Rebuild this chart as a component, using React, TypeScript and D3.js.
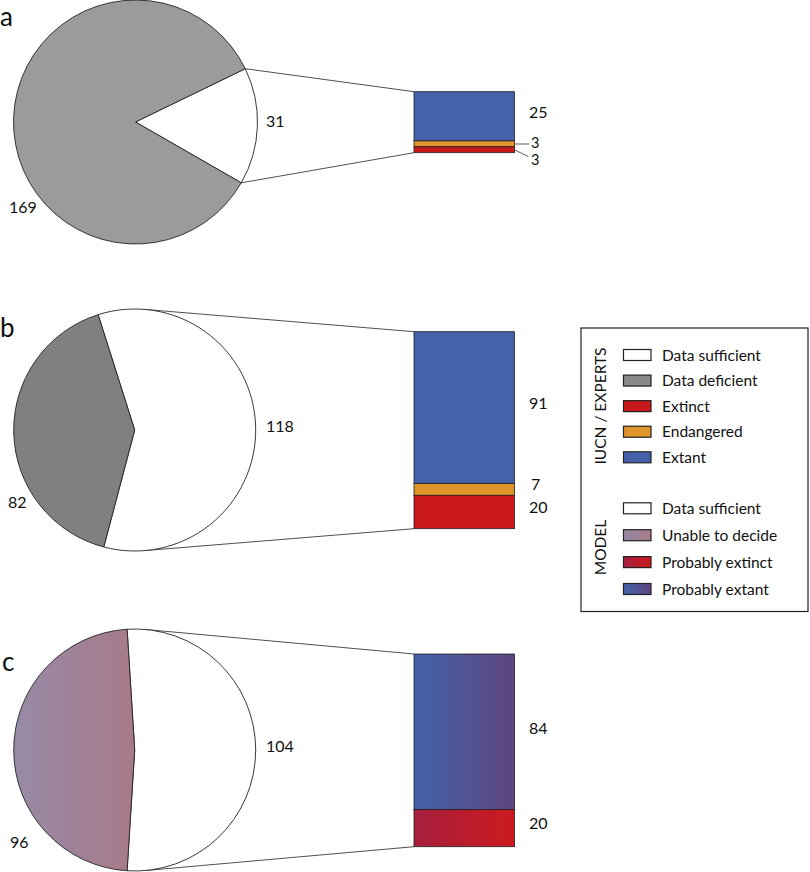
import React from "react";
import * as d3 from "d3";

// ---------- DATA ----------
const panelLetters = ["a", "b", "c"];
const pieSufficient = [31, 118, 104];
const pieOther = [169, 82, 96]; // a,b: data deficient; c: unable to decide
const barCategoriesExperts = ["Extant", "Endangered", "Extinct"];
const barValuesA = [25, 3, 3];
const barValuesB = [91, 7, 20];
const barCategoriesModel = ["Probably extant", "Probably extinct"];
const barValuesC = [84, 20];
const legendExperts = ["Data sufficient", "Data deficient", "Extinct", "Endangered", "Extant"];
const legendModel = ["Data sufficient", "Unable to decide", "Probably extinct", "Probably extant"];
const legendTitles = ["IUCN / EXPERTS", "MODEL"];

// ---------- STYLE / LAYOUT ----------
const FONT = "Lato, 'Open Sans', sans-serif";
const C = {
  white: "#ffffff",
  grayA: "#9b9b9b",
  grayB: "#808080",
  blue: "#4561aa",
  orange: "#e0952b",
  red: "#c8181c",
  stroke: "#222",
};
const fillExperts: Record<string, string> = {
  Extant: C.blue,
  Endangered: C.orange,
  Extinct: C.red,
  "Data sufficient": C.white,
  "Data deficient": "#888888",
};
const fillModel: Record<string, string> = {
  "Probably extant": "url(#gExtant)",
  "Probably extinct": "url(#gExtinct)",
  "Unable to decide": "url(#gUnable)",
  "Data sufficient": C.white,
};

type Layout = {
  cx: number; cy: number; r: number; rot: number;
  otherFill: string;
  bx0: number; bx1: number; by0: number; by1: number;
  tangent: boolean;
  letter: [number, number];
  otherLabel: [number, number];
  suffLabel: [number, number];
  barLabels: { x: number; y: number; size?: number; leader?: [number, number, number, number] }[];
};

const layouts: Layout[] = [
  {
    cx: 135.5, cy: 122, r: 122, rot: 2, otherFill: C.grayA,
    bx0: 414, bx1: 514.5, by0: 91.7, by1: 152.7, tangent: false,
    letter: [0, 26], otherLabel: [9, 213], suffLabel: [266, 126.5],
    barLabels: [
      { x: 529, y: 117.5 },
      { x: 531, y: 147.5, size: 14.5, leader: [514.5, 144, 529, 144] },
      { x: 531, y: 164.5, size: 14.5, leader: [514.5, 150, 528.5, 156.5] },
    ],
  },
  {
    cx: 134.7, cy: 430, r: 121, rot: -1.4, otherFill: C.grayB,
    bx0: 414, bx1: 514.5, by0: 331.7, by1: 528.7, tangent: true,
    letter: [0, 337], otherLabel: [8, 507.5], suffLabel: [266, 431.5],
    barLabels: [{ x: 529, y: 408.5 }, { x: 531, y: 489.5 }, { x: 529, y: 512.5 }],
  },
  {
    cx: 134.7, cy: 750, r: 121, rot: 0, otherFill: "url(#gUnablePie)",
    bx0: 414, bx1: 514.5, by0: 654, by1: 846.7, tangent: true,
    letter: [2, 671], otherLabel: [10, 847.5], suffLabel: [266, 751.5],
    barLabels: [{ x: 529, y: 733.5 }, { x: 529, y: 828.5 }],
  },
];

const barCats = [barCategoriesExperts, barCategoriesExperts, barCategoriesModel];
const barVals = [barValuesA, barValuesB, barValuesC];

function tangentPoint(cx: number, cy: number, r: number, px: number, py: number, upper: boolean) {
  const dx = px - cx, dy = py - cy;
  const d = Math.hypot(dx, dy);
  const phi = Math.atan2(dy, dx);
  const a = Math.acos(r / d);
  const t = upper ? phi - a : phi + a;
  return [cx + r * Math.cos(t), cy + r * Math.sin(t)];
}

const NUM_SIZE = 16;

function Panel({ i }: { i: number }) {
  const L = layouts[i];
  const suff = pieSufficient[i];
  const other = pieOther[i];
  const total = suff + other;
  const w = (2 * Math.PI * suff) / total;
  const rot = (L.rot * Math.PI) / 180;
  const start = Math.PI / 2 + rot - w / 2;
  const pieGen = d3.pie<number>().sort(null).startAngle(start).endAngle(start + 2 * Math.PI);
  const arcs = pieGen([suff, other]);
  const arcGen = d3.arc<d3.PieArcDatum<number>>().innerRadius(0).outerRadius(L.r);
  const fills = [C.white, L.otherFill];

  const edge = (a: number) => [L.cx + L.r * Math.sin(a), L.cy - L.r * Math.cos(a)];
  let top: number[], bot: number[];
  if (L.tangent) {
    top = tangentPoint(L.cx, L.cy, L.r, L.bx0, L.by0, true);
    bot = tangentPoint(L.cx, L.cy, L.r, L.bx0, L.by1, false);
  } else {
    top = edge(arcs[0].startAngle);
    bot = edge(arcs[0].endAngle);
  }

  const cats = barCats[i];
  const vals = barVals[i];
  const barTotal = d3.sum(vals);
  const y = d3.scaleLinear().domain([0, barTotal]).range([L.by0, L.by1]);
  const cum = d3.cumsum(vals);
  const fillMap = i === 2 ? fillModel : fillExperts;

  return (
    <g>
      <line x1={top[0]} y1={top[1]} x2={L.bx0} y2={L.by0} stroke={C.stroke} strokeWidth={0.8} />
      <line x1={bot[0]} y1={bot[1]} x2={L.bx0} y2={L.by1} stroke={C.stroke} strokeWidth={0.8} />
      <g transform={`translate(${L.cx},${L.cy})`}>
        {arcs.map((a, k) => (
          <path key={k} d={arcGen(a) || ""} fill={fills[k]} stroke={C.stroke} strokeWidth={0.9} />
        ))}
      </g>
      {cats.map((c, k) => (
        <rect
          key={c}
          x={L.bx0}
          y={y(cum[k] - vals[k])}
          width={L.bx1 - L.bx0}
          height={y(cum[k]) - y(cum[k] - vals[k])}
          fill={fillMap[c]}
          stroke={C.stroke}
          strokeWidth={0.8}
        />
      ))}
      {vals.map((v, k) => {
        const bl = L.barLabels[k];
        return (
          <g key={k}>
            {bl.leader && (
              <line x1={bl.leader[0]} y1={bl.leader[1]} x2={bl.leader[2]} y2={bl.leader[3]} stroke="#333" strokeWidth={0.8} />
            )}
            <text x={bl.x} y={bl.y} fontSize={bl.size || NUM_SIZE} fontFamily={FONT} fill="#111">{v}</text>
          </g>
        );
      })}
      <text x={L.suffLabel[0]} y={L.suffLabel[1]} fontSize={NUM_SIZE} fontFamily={FONT} fill="#111">{suff}</text>
      <text x={L.otherLabel[0]} y={L.otherLabel[1]} fontSize={NUM_SIZE} fontFamily={FONT} fill="#111">{other}</text>
      <text x={L.letter[0]} y={L.letter[1]} fontSize={26} fontFamily={FONT} fill="#111">{panelLetters[i]}</text>
    </g>
  );
}

function Legend() {
  const x0 = 581, y0 = 328, x1 = 808, y1 = 611.5;
  const sx = 623.5, sw = 27.5, sh = 11, tx = 662;
  const yExp = d3.scalePoint<string>().domain(legendExperts).range([355, 457.3]);
  const yMod = d3.scalePoint<string>().domain(legendModel).range([508.3, 589]);
  const sw2 = (fill: string, cy: number, key: string, label: string) => (
    <g key={key}>
      <rect x={sx} y={cy - sh / 2} width={sw} height={sh} fill={fill} stroke="#222" strokeWidth={1.2} />
      <text x={tx} y={cy + 5.5} fontSize={15.5} fontFamily={FONT} fill="#111">{label}</text>
    </g>
  );
  return (
    <g>
      <rect x={x0} y={y0} width={x1 - x0} height={y1 - y0} fill="#fff" stroke="#222" strokeWidth={1.2} />
      {legendExperts.map((l) => sw2(fillExperts[l], yExp(l)!, "e" + l, l))}
      {legendModel.map((l) => sw2(fillModel[l], yMod(l)!, "m" + l, l))}
      <text
        transform={`translate(606,406) rotate(-90)`}
        textAnchor="middle"
        fontSize={15.5}
        fontFamily={FONT}
        fill="#111"
      >
        {legendTitles[0]}
      </text>
      <text
        transform={`translate(606,547.5) rotate(-90)`}
        textAnchor="middle"
        fontSize={15.5}
        fontFamily={FONT}
        fill="#111"
      >
        {legendTitles[1]}
      </text>
    </g>
  );
}

export default function App() {
  return (
    <svg width={810} height={872} style={{ position: "absolute", left: 0, top: 0, background: "#fff" }}>
      <defs>
        <linearGradient id="gExtant" x1="0" x2="1" y1="0" y2="0">
          <stop offset="0" stopColor="#4262a9" />
          <stop offset="1" stopColor="#5e4580" />
        </linearGradient>
        <linearGradient id="gExtinct" x1="0" x2="1" y1="0" y2="0">
          <stop offset="0" stopColor="#a61f3e" />
          <stop offset="1" stopColor="#cc1a1e" />
        </linearGradient>
        <linearGradient id="gUnable" x1="0" x2="1" y1="0" y2="0">
          <stop offset="0" stopColor="#978aa6" />
          <stop offset="1" stopColor="#a87a8a" />
        </linearGradient>
        <linearGradient id="gUnablePie" gradientUnits="userSpaceOnUse" x1="-121" x2="0" y1="0" y2="0">
          <stop offset="0" stopColor="#978aa6" />
          <stop offset="1" stopColor="#a87a8a" />
        </linearGradient>
      </defs>
      {layouts.map((_, i) => (
        <Panel key={i} i={i} />
      ))}
      <Legend />
    </svg>
  );
}
